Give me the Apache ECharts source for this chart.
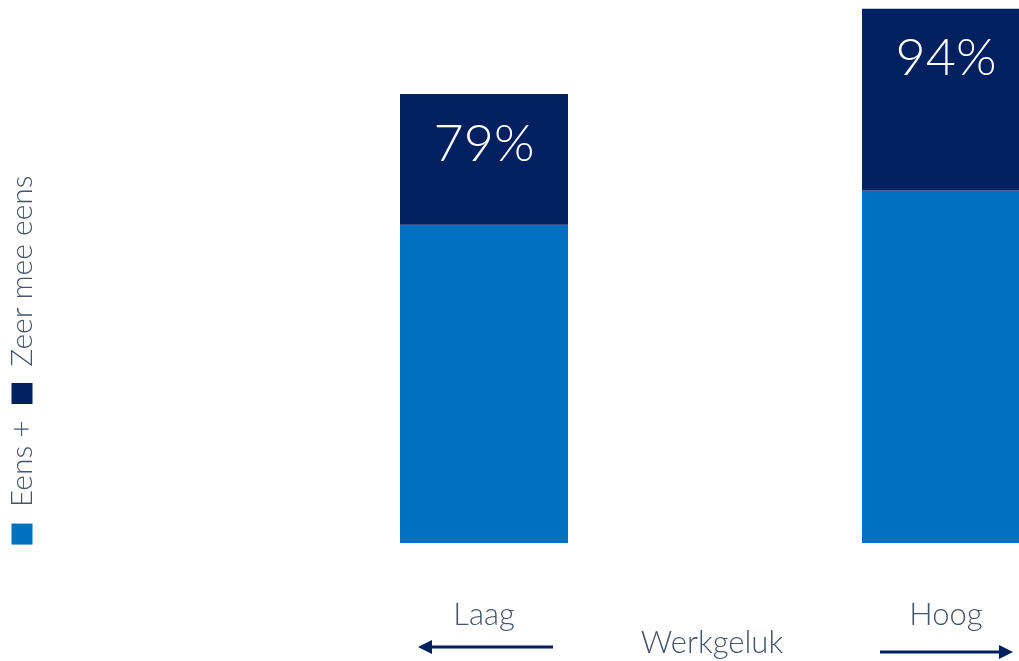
<!DOCTYPE html>
<html>
<head>
<meta charset="utf-8">
<script src="https://cdn.jsdelivr.net/npm/echarts@6/dist/echarts.min.js"></script>
<style>
  html, body { margin: 0; padding: 0; background: #ffffff; }
  #chart { width: 1019px; height: 661px; }
</style>
</head>
<body>
<div id="chart"></div>
<script>
// Werkgeluk groups on the x axis
const categories = ['Laag', 'Hoog'];
// Total share "Eens + Zeer mee eens" (%)
const totals = [79, 94];
// Share "Eens" (%)
const eensValues = [56, 62];
// Share "Zeer mee eens" (%) stacked on top
const zeerMeeEensValues = totals.map((t, i) => t - eensValues[i]);

const LIGHT = '#0070C0';
const DARK = '#002060';
const TEXT = '#44546A';
const FONT = 'Lato, "Open Sans", sans-serif';

const chart = echarts.init(document.getElementById('chart'), null, { renderer: 'canvas' });

chart.setOption({
  animation: false,
  backgroundColor: '#ffffff',
  // categories sit on the grid edges; the "Hoog" bar runs off the right side
  grid: { left: 484, right: 73, top: 3, bottom: 118, containLabel: false },
  xAxis: {
    type: 'category',
    data: categories,
    boundaryGap: false,
    axisLine: { show: false },
    axisTick: { show: false },
    axisLabel: {
      margin: 56,
      fontSize: 31,
      fontFamily: FONT,
      fontWeight: 300,
      color: TEXT
    }
  },
  yAxis: {
    type: 'value',
    min: 0,
    max: 95,
    show: false,
    splitLine: { show: false }
  },
  series: [
    {
      name: 'Eens',
      type: 'bar',
      stack: 'totaal',
      barWidth: 168,
      data: eensValues,
      itemStyle: { color: LIGHT }
    },
    {
      name: 'Zeer mee eens',
      type: 'bar',
      stack: 'totaal',
      barWidth: 168,
      data: zeerMeeEensValues,
      itemStyle: { color: DARK },
      label: {
        show: true,
        position: 'insideTop',
        distance: 24,
        fontSize: 52,
        lineHeight: 52,
        fontFamily: FONT,
        fontWeight: 300,
        color: '#ffffff',
        formatter: p => totals[p.dataIndex] + '%'
      }
    }
  ],
  graphic: [
    {
      type: 'text',
      x: 22,
      y: 360,
      rotation: Math.PI / 2,
      style: {
        text: '{a|}  {t|Eens +  }{b|}  {t|Zeer mee eens}',
        align: 'center',
        verticalAlign: 'middle',
        fontFamily: FONT,
        fontWeight: 300,
        fontSize: 30,
        fill: TEXT,
        rich: {
          a: { width: 21, height: 21, backgroundColor: LIGHT },
          b: { width: 21, height: 21, backgroundColor: DARK },
          t: { fontSize: 30, fontFamily: FONT, fontWeight: 300, fill: TEXT }
        }
      }
    },
    {
      type: 'text',
      x: 712,
      y: 643,
      style: {
        text: 'Werkgeluk',
        align: 'center',
        verticalAlign: 'middle',
        fontFamily: FONT,
        fontWeight: 300,
        fontSize: 31,
        fill: TEXT
      }
    },
    // left arrow (towards "Laag")
    {
      type: 'line',
      shape: { x1: 553, y1: 647, x2: 428, y2: 647 },
      style: { stroke: DARK, lineWidth: 3 }
    },
    {
      type: 'polygon',
      shape: { points: [[418, 647], [432, 640], [432, 654]] },
      style: { fill: DARK }
    },
    // right arrow (towards "Hoog")
    {
      type: 'line',
      shape: { x1: 880, y1: 652, x2: 1003, y2: 652 },
      style: { stroke: DARK, lineWidth: 3 }
    },
    {
      type: 'polygon',
      shape: { points: [[1013, 652], [999, 645], [999, 659]] },
      style: { fill: DARK }
    }
  ]
});
</script>
</body>
</html>
